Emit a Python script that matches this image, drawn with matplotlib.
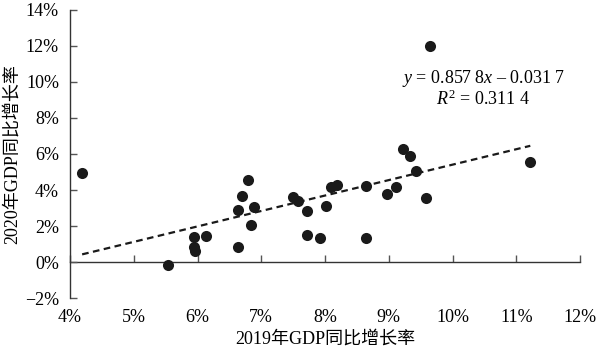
import numpy as np
import matplotlib
matplotlib.use("Agg")
import matplotlib.pyplot as plt
from matplotlib.ticker import FuncFormatter

plt.rcParams['font.family'] = ['Liberation Serif', 'Noto Sans CJK SC']
plt.rcParams['mathtext.fontset'] = 'custom'
plt.rcParams['mathtext.rm'] = 'Liberation Serif'
plt.rcParams['mathtext.it'] = 'Liberation Serif:italic'

# -------- DATA (percent) --------
gdp_2019 = [4.19, 5.54, 5.95, 5.95, 5.96, 6.14, 6.64, 6.64, 6.69, 6.79, 6.89,
            6.84, 7.49, 7.57, 7.72, 7.72, 7.92, 8.02, 8.10, 8.19, 8.64, 8.65,
            8.98, 9.11, 9.42, 9.58, 11.22, 9.22, 9.33, 9.65]
gdp_2020 = [4.96, -0.17, 1.41, 0.81, 0.61, 1.46, 2.89, 0.85, 3.65, 4.57, 3.07,
            2.04, 3.59, 3.41, 2.85, 1.48, 1.33, 3.11, 4.18, 4.30, 4.22, 1.35,
            3.76, 4.19, 5.06, 3.54, 5.54, 6.26, 5.89, 12.0]
slope = 0.8578
intercept = -0.0317
x_ticks = [4, 5, 6, 7, 8, 9, 10, 11, 12]
y_ticks = [-2, 0, 2, 4, 6, 8, 10, 12, 14]

# -------- PLOT --------
fig = plt.figure(figsize=(6, 3.52), dpi=100)
ax = fig.add_axes([0.1167, 0.1534, 0.85, 0.8182])

ax.scatter(gdp_2019, gdp_2020, s=64, color='#1a1a1a', zorder=3, linewidths=0)

xs = np.array([min(gdp_2019), max(gdp_2019)])
ax.plot(xs, (slope * xs / 100 + intercept) * 100, color='#1a1a1a',
        lw=1.6, linestyle=(0, (3, 2)), zorder=2)

# regression equation
ax.text(10.48, 10.2, r'$y$ = 0.857 8$x$ – 0.031 7', ha='center', va='center', fontsize=13)
ax.text(10.48, 9.05, r'$R^2$ = 0.311 4', ha='center', va='center', fontsize=13)

# -------- AXES SETTINGS --------
ax.set_xlim(4, 12)
ax.set_ylim(-2, 14)
ax.set_xticks(x_ticks)
ax.set_yticks(y_ticks)
pct = FuncFormatter(lambda v, p: ('−' if v < 0 else '') + f'{abs(v):g}%')
ax.xaxis.set_major_formatter(pct)
ax.yaxis.set_major_formatter(pct)

for s in ['top', 'right', 'bottom']:
    ax.spines[s].set_visible(False)
ax.spines['left'].set_color('#333333')
ax.spines['left'].set_linewidth(1.0)
ax.tick_params(axis='y', direction='in', length=5, width=1, color='#555555',
               labelsize=13, pad=8)
ax.tick_params(axis='x', length=0, labelsize=13, pad=8)

# zero line with inward ticks
sec = ax.secondary_xaxis(0.125)
sec.set_xticks(x_ticks)
sec.tick_params(axis='x', direction='in', length=5, width=1, color='#555555',
                labelbottom=False)
sec.spines['bottom'].set_color('#333333')
sec.spines['bottom'].set_linewidth(1.0)

ax.set_xlabel("2019年GDP同比增长率", fontsize=13, labelpad=3)
ax.set_ylabel("2020年GDP同比增长率", fontsize=13, labelpad=3)

fig.savefig("out.png", dpi=100)
